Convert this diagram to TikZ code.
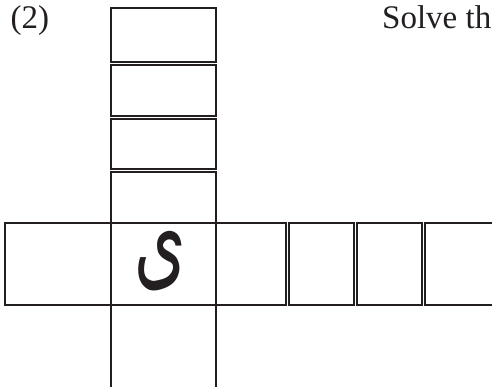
\documentclass[tikz,border=0pt]{standalone}
\usepackage{fontspec}
\setmainfont{Liberation Serif}
\newfontfamily\arabicfont[Script=Arabic]{DejaVu Sans}
\TeXXeTstate=1
\usetikzlibrary{positioning}
\definecolor{ink1}{HTML}{231F20}

\begin{document}
\begin{tikzpicture}[x=1pt, y=-1pt]
\useasboundingbox (0,0) rectangle (492,387);
\clip (0,0) rectangle (492,387);
\node[anchor=base west, inner sep=0pt, color=ink1, font=\fontsize{33}{38}\selectfont] (num) at (10.5,28.5) {(2)};
\node[anchor=base west, inner sep=0pt, color=ink1, font=\fontsize{33}{38}\selectfont] (task) at (382,28.5) {Solve th};
\draw[line width=2pt, color=ink1] (111,8) rectangle (216,62);
\draw[line width=2pt, color=ink1] (111,64.6) rectangle (216,116);
\draw[line width=2pt, color=ink1] (111,118.6) rectangle (216,169);
\draw[line width=2pt, color=ink1] (111,171.6) rectangle (216,223);
\draw[line width=2pt, color=ink1] (5,223) rectangle (111,305);
\draw[line width=2.3pt, color=ink1] (111,223) rectangle (216,305);
\draw[line width=2pt, color=ink1] (216,223) rectangle (285.5,305);
\draw[line width=2pt, color=ink1] (288.5,223) rectangle (353.5,305);
\draw[line width=2pt, color=ink1] (356.5,223) rectangle (421.5,305);
\draw[line width=2pt, color=ink1] (424.5,223) rectangle (520,305);
\draw[line width=2pt, color=ink1] (111,305) -- (111,400);
\draw[line width=2pt, color=ink1] (216,305) -- (216,400);
\node[inner sep=0pt, color=ink1, xscale=0.6, font=\arabicfont\fontsize{110}{112}\selectfont] (letter) at (160,261) {\beginR ى\endR};
\end{tikzpicture}
\end{document}
